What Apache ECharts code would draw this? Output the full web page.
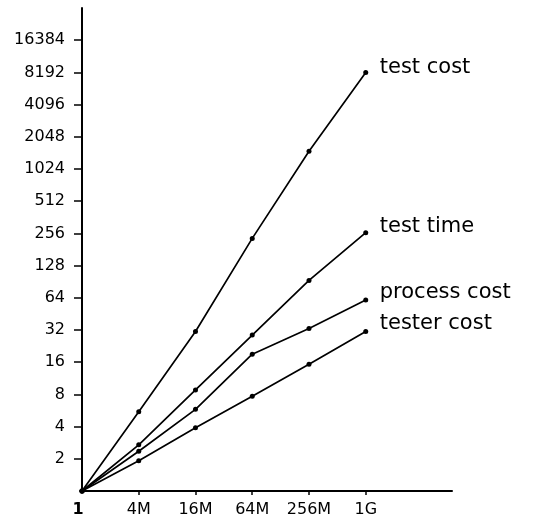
<!DOCTYPE html>
<html><head><meta charset="utf-8">
<script src="https://cdn.jsdelivr.net/npm/echarts@6/dist/echarts.min.js"></script>
<style>html,body{margin:0;padding:0;background:#fff}#c{width:534px;height:518px}</style>
</head><body><div id="c"></div>
<script>
const categories = ['1', '4M', '16M', '64M', '256M', '1G'];
const yTicks = [2, 4, 8, 16, 32, 64, 128, 256, 512, 1024, 2048, 4096, 8192, 16384];
const seriesNames = ['test cost', 'test time', 'process cost', 'tester cost'];
const testCost = [1, 5.5, 31, 230, 1500, 8192];
const testTime = [1, 2.7, 8.8, 28.7, 93, 260];
const processCost = [1, 2.35, 5.8, 19, 33, 61];
const testerCost = [1, 1.92, 3.9, 7.7, 15.3, 31];
const allValues = [testCost, testTime, processCost, testerCost];
const labelOffsets = [[0, -5], [0, -6], [0, -7], [0, -8]];

const FONT = 'DejaVu Sans';
const chart = echarts.init(document.getElementById('c'), null, {renderer: 'canvas'});
chart.setOption({
  animation: false,
  backgroundColor: '#fff',
  grid: {left: 82, right: 82, top: 8, bottom: 26, containLabel: false},
  xAxis: {
    type: 'value', min: 0, max: 6.52, interval: 1,
    splitLine: {show: false},
    axisLine: {lineStyle: {color: '#000', width: 2}},
    axisTick: {show: true, inside: false, length: 4, lineStyle: {color: '#000', width: 1.5},
      customValues: [1, 2, 3, 4, 5]},
    axisLabel: {
      customValues: [0, 1, 2, 3, 4, 5],
      formatter: v => {
        const i = Math.round(v);
        return i === 0 ? '{b|' + categories[0] + '}' : (categories[i] ?? '');
      },
      rich: {b: {fontWeight: 'bold', fontFamily: FONT, fontSize: 16, color: '#000', padding: [0, 8, 0, 0]}},
      color: '#000', fontFamily: FONT, fontSize: 16, margin: 11
    }
  },
  yAxis: {
    type: 'log', logBase: 2, min: 1, max: 32768,
    splitLine: {show: false},
    axisLine: {lineStyle: {color: '#000', width: 2}},
    axisTick: {show: true, length: 8, lineStyle: {color: '#000', width: 1.5}, customValues: yTicks},
    axisLabel: {customValues: yTicks, formatter: v => String(Math.round(v)),
      color: '#000', fontFamily: FONT, fontSize: 16, margin: 17}
  },
  series: allValues.map((vals, k) => ({
    type: 'line',
    name: seriesNames[k],
    data: vals.map((v, i) => [i, v]),
    symbol: 'circle', symbolSize: 5,
    lineStyle: {color: '#000', width: 1.7},
    itemStyle: {color: '#000'},
    endLabel: {show: true, formatter: '{a}', color: '#000', fontFamily: FONT, fontSize: 21,
      distance: 14, offset: labelOffsets[k]}
  }))
});
</script></body></html>
